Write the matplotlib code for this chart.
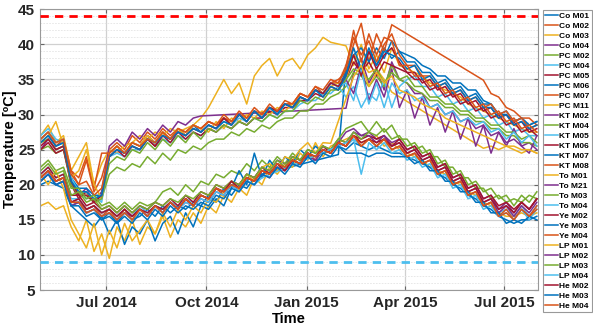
import numpy as np
import pandas as pd
import matplotlib
matplotlib.use("Agg")
import matplotlib.pyplot as plt
import matplotlib.dates as mdates
from matplotlib.ticker import MultipleLocator

plt.rcParams['font.family'] = ['Liberation Sans', 'DejaVu Sans']

nan = float('nan')

# weekly readings, 2 May 2014 .. 31 Jul 2015 (11 values per row)
dates = pd.date_range("2014-05-02", periods=66, freq="7D")

co_m01 = [20.5, 21.5, 20, 20.5, 17, 17.5, 16, 16.5, 15, 16, 14.5,
          16, 15, 15.5, 16.5, 15.5, 17, 16, 17, 16.5, 17.5, 17,
          18.5, 17.5, 19.5, 18.5, 20, 19.5, 21, 21.5, nan, nan, nan,
          nan, nan, nan, nan, nan, nan, 24.3, 37, 38.5, 36, 39,
          37, 39.5, 38, 39, 37.5, 37.5, 36, 36, 34.5, 35, 33.5,
          34, 32.5, 33, 31.5, 31.5, 30, 30.5, 29, 29.5, 28.5, 29]
co_m02 = [26.5, 27.5, 26, 26.5, 22, 20, 23.5, 19, 21, 25, 26,
          25, 27, 26, 27.5, 26.5, 28, 27, 28, 27.5, 28.5, 28,
          29, 28.5, 29.5, 29, 30, 29.5, 30.5, 30, 31, 30.5, 31.5,
          31.5, 33, 32.5, 34, 33, 34.5, 35, 36, 40, 43, 37.5,
          41.5, 39, 42.8, nan, nan, nan, nan, nan, nan, nan, nan,
          nan, nan, nan, 34.9, 33, 32.5, 31, 30.5, 29.5, 29.5, 28.5]
co_m03 = [27, 28.5, 26, 27, 22, 24, 26, 20, 23, 25, 24.5,
          25.5, 26, 27, 26.5, 27.5, 27, 28, 27.5, 28, 28.5, 29.5,
          31, 33, 35, 33, 34.5, 31.5, 35.5, 37, 38, 35.5, 37.5,
          38, 36.5, 38.5, 39.5, 41, 40.3, nan, 39.8, 37, 40, 36.5,
          38.5, 36, 39.5, 37, 36.5, 36, 35.5, 34.5, 34, 33.5, 33,
          32.5, 31.5, 31, 30.5, 30, 29.5, 29, 28.5, 28, 27.5, 27.5]
co_m04 = [25, 26.5, 25, 25.5, 20, 18.5, 19.5, 17.5, 19, 25.5, 26.5,
          25.5, 27.5, 26.5, 28, 27, 28.5, 27.5, 29, 28.5, 29.5, 29.8,
          nan, nan, nan, nan, nan, nan, nan, nan, nan, nan, nan,
          nan, nan, nan, nan, nan, nan, nan, 30.9, 36, 38, 34.5,
          36.5, 33.5, 37.5, 35, 34.5, 33, 33, 31, 31.5, 30, 30.5,
          29, 29.5, 28, 28.5, 27, 27.5, 26, 26.5, 25.5, 26, 25]
pc_m02 = [25, 25.5, 24.5, 25, 20.5, 18.5, 19, 17.5, 18, 21.5, 22.5,
          22, 23, 22.5, 24, 23, 24.5, 23.5, 25, 24.5, 25.5, 25,
          26, 26.5, 26.5, 27.5, 27, 28, 27.5, 28.5, 28, 29, 29.5,
          29.5, 30.5, 30.5, 31.5, 31.5, 32.5, 33, 34, 36, 35.5, 34,
          35.5, 34, 37, 35, 34.5, 33.5, 33, 32, 32, 31, 31,
          30, 30, 29, 29, 28, 28, 27, 27, 26, 26, 25.5]
pc_m04 = [27, 28, 26.5, 26, 21, 19, 18, 18.5, 17.5, 24, 24.5,
          24, 25, 25, 26.5, 25.5, 26.5, 26, 27, 26.5, 27.5, 27,
          28, 27.5, 28.5, 28, 29, 28.5, 29.5, 29, 30, 29.5, 30.5,
          30.5, 31.5, 32, 32, 33, 33, 34, 32.5, 34, 31, 33,
          32, 35, 31, 34, 35, 35.5, 34, 34, 32.5, 33, 31.5,
          32, 30.5, 31, 29.5, 30, 28.5, 29, 27.5, 28, 27, 27]
pc_m05 = [25, 26, 24.5, 25, 20, 18, 19, 17.5, 18.5, 24, 25,
          24, 25.5, 25, 26.5, 25.5, 27, 26, 27.5, 26.5, 27.5, 27,
          28, 27.5, 28.5, 28, 29, 28.5, 29.5, 29.5, 30.5, 30, 31,
          31, 32, 32, 33, 32.5, 34, 33.5, 35, 37.5, 36, 37.5,
          35.5, 37.5, 37, 36.5, 36, 35, 35, 33.5, 34, 32.5, 33,
          31.5, 32, 30.5, 31, 29.5, 30, 28.5, 29, 27.5, 28, 27]
pc_m06 = [26, 27, 25.5, 26, 21, 19.5, 19.5, 18.5, 18.5, 24.5, 25.5,
          24.5, 26, 25.5, 27, 26, 27.5, 26.5, 28, 27, 28.5, 27.5,
          28.5, 28, 29.5, 28.5, 30, 29, 30.5, 29.5, 31, 30, 31.5,
          31, 32.5, 32, 33.5, 33, 34.5, 34, 36, 38.5, 39.5, 37.5,
          39.5, 38, 40.5, 39, 38.5, 38, 37, 36.5, 35.5, 35.5, 34.5,
          34.5, 33.5, 33.5, 32, 31.5, 30, 30, 29, 29.5, 28.5, 29]
pc_m07 = [26.5, 27.5, 25.5, 26.5, 22, 21, 24, 19.5, 24.5, 24.5, 25.5,
          24.5, 26, 25.5, 27, 26, 27.5, 26.5, 28, 27, 28.5, 28,
          29, 28.5, 29.5, 29, 30, 29.5, 30.5, 30, 31, 30.5, 31.5,
          31.5, 33, 32.5, 33.5, 33, 34.5, 34.5, 37, 41, 38.5, 40.5,
          37.5, 40, 41.5, 38.5, 37, 37, 35.5, 35.5, 34, 34.5, 33,
          33.5, 32, 32.5, 31, 31.5, 30, 30.5, 29, 29.5, 28, 28.5]
pc_m11 = [26, 27, 29, 25.5, 21, 22, 25, 20, 18, 24.5, 25.5,
          24.5, 26, 25.5, 27, 26, 27.5, 26.5, 28, 27, 28.5, 28,
          27.5, 29, 28, 29.5, 29, 30, 29.5, 30.5, 30, 31, 30.5,
          31.5, 32.5, 32, 33.5, 33, 34, 34.5, 35, 38.5, 37.5, 36,
          36.5, 35, 33.2, nan, nan, nan, nan, nan, nan, nan, nan,
          nan, nan, nan, 25.2, 25.5, 25, 25.5, 25, 24.5, 25, 24.5]
kt_m02 = [nan, nan, nan, nan, nan, nan, nan, nan, nan, nan, nan,
          nan, nan, nan, nan, nan, nan, nan, nan, nan, nan, nan,
          nan, nan, nan, nan, nan, nan, nan, nan, nan, nan, nan,
          nan, nan, nan, nan, nan, nan, nan, 35, 33, 37, 32,
          35, 32.5, 36.5, 31, 33.5, 29.5, 32.5, 28.5, 31, 27.5, 30.5,
          26.5, 29.5, 25.5, 28.5, 24.5, 27.5, 25.5, 28, 25.5, 24.5, 27]
kt_m04 = [26, 26.5, 25, 25.5, 20, 18.5, 18.5, 17.5, 18, 23, 24,
          23.5, 25, 24.5, 26, 25, 26.5, 25.5, 27, 26, 27.5, 26.5,
          28, 27.5, 28.5, 28, 29, 28.5, 29.5, 29, 30, 29.5, 30.5,
          30.5, 32, 31.5, 32.5, 32, 33.5, 33.5, 35, 36.5, 36, 35,
          36.5, 34.5, 36, 35, 35.5, 34, 34, 32.5, 32.5, 31.5, 31.5,
          30.5, 30.5, 29.5, 29.5, 28.5, 28.5, 27.5, 27.5, 26.5, 27, 26]
kt_m05 = [26.5, 27.5, 26, 26.5, 21, 19, 19, 18, 18.5, 24, 25,
          24.5, 25.5, 25, 26.5, 26, 27, 26.5, 27.5, 27, 28, 27.5,
          28.5, 28, 29, 28.5, 29.5, 29, 30.5, 29.5, 31, 30, 31.5,
          31, 32.5, 32, 33.5, 33, 34.5, 34, 34.5, 32, 36.5, 31.5,
          34.5, 31, 34.5, 33, 33.5, 32, 32.5, 31, 31.5, 30, 30.5,
          29, 29.5, 28.5, 29, 27.5, 28, 26.5, 27.5, 26, 27, 25.5]
kt_m06 = [25.5, 26.5, 25, 25.5, 20.5, 18.5, 18.5, 17.5, 18.5, 24, 25,
          24.5, 25.5, 25, 26.5, 25.5, 27, 26.5, 27.5, 27, 28, 27.5,
          28.5, 28, 29.5, 28.5, 30, 29, 30.5, 29.5, 31, 30.5, 31.5,
          31, 32.5, 32, 33.5, 33, 34.5, 34, 35.5, 38.5, 35.5, 39,
          36.5, 38.5, 39.5, 37.5, 36, 36, 34.5, 35, 33.5, 34, 32.5,
          33, 31.5, 32, 30.5, 31, 29.5, 30, 28.5, 29, 27.5, 28]
kt_m07 = [26, 27, 25.5, 26, 20.5, 19, 19, 18, 18.5, 24, 25,
          24.5, 25.5, 25, 26.5, 26, 27, 26.5, 27.5, 27, 28, 27.5,
          28.5, 28, 29, 28.5, 30, 29, 30.5, 29.5, 31, 30, 31.5,
          31, 32.5, 32, 33.5, 32.5, 34, 33.5, 35.5, 39.5, 36.5, 39.5,
          37, 39, 38.5, 38, 36.5, 37, 35, 35.5, 34, 34.5, 33,
          33.5, 32, 32.5, 31, 31, 29.5, 30, 28.5, 29, 28, 28.5]
kt_m08 = [26.5, 27.5, 26, 26.5, 21.5, 20, 20.5, 18.5, 19.5, 24.5, 25.5,
          24.5, 26, 25.5, 26.5, 26, 27.5, 26.5, 28, 27.5, 28.5, 28,
          29, 28.5, 30, 29, 30.5, 29.5, 31, 30, 31.5, 30.5, 32,
          31.5, 33, 32.5, 34, 33.5, 35, 34.5, 36.5, 42, 37.5, 41.5,
          38.5, 41, 40.5, 37, 37, 35.5, 35.5, 34, 34.5, 33, 33.5,
          32, 32.5, 31, 31.5, 30, 30.5, 29, 29.5, 28, 28.5, 27.5]
to_m01 = [17, 17.5, 16.5, 17, 14, 12, 15, 10.5, 13, 9.5, 14,
          12, 15, 11.5, 14, 13, 15.5, 12.5, 15, 14, 16, 14.5,
          17, 16, 18.5, 17.5, 19.5, 18.5, 21, 20, 22.5, 21.5, 23,
          22.5, 24.5, 23.5, 26, 24, 25.5, 26, 26.5, 27, 26, 26.5,
          27, 25.5, 26, 25, 24.5, 24, 23.5, 22.5, 22, 21.5, 20.5,
          20, 19, 18.5, 17.5, 17, 16, 15.5, 15.5, 16, 15.5, 16]
to_m21 = [21, 22, 20.5, 21, 17.5, 18, 16.5, 17, 16, 16.5, 15.5,
          16.5, 15.5, 16.5, 15.5, 17, 16.5, 17.5, 16.5, 18, 17, 18.5,
          18, 19.5, 19, 20.5, 20, 21.5, 21, 22.5, 22, 23.5, 23,
          24, 23.5, 25, 24.5, 25.5, 25, 26.5, 26, 27.5, 27, 27.5,
          26.5, 27, 26, 26.5, 25, 25.5, 24, 24.5, 22.5, 23, 21,
          21.5, 19.5, 20, 18, 18.5, 16.5, 17.5, 16, 17.5, 16.5, 18]
to_m03 = [22.5, 23.5, 22, 22.5, 19.5, 19.5, 18, 18.5, 17, 17.5, 16.5,
          17.5, 16.5, 17.5, 17, 17.5, 19, 19.5, 18.5, 20, 19, 20.5,
          20, 21.5, 21, 22, 21.5, 23, 22, 23.5, 22.5, 24, 23,
          24.5, 23.5, 25, 24.5, 25.5, 25, 26.5, 28, 28.5, 29, 27.5,
          29, 27.5, 28.5, 26.5, 26.5, 25, 25.5, 24, 24, 22.5, 22.5,
          21, 21, 19.5, 19.5, 18, 18.5, 17.5, 18, 17.5, 18.5, 18]
to_m04 = [21.5, 22.5, 21, 21.5, 18, 18, 16.5, 17, 16, 16.5, 15.5,
          16.5, 15.5, 17, 16, 17, 16.5, 17.5, 17, 18, 17.5, 18.5,
          18, 19.5, 19, 20, 19.5, 21, 20.5, 22, 21.5, 23, 22,
          23.5, 23, 24.5, 23.5, 25, 24.5, 26, 25.5, 26.5, 25.5, 26.5,
          25.5, 26.5, 25, 25.5, 24, 24.5, 23, 23.5, 21.5, 22, 20,
          20.5, 18.5, 19, 17, 17.5, 16, 16.5, 15.5, 17, 15.5, 17]
ye_m02 = [21.5, 22.5, 21, 21.5, 18.5, 18.5, 17, 17.5, 16.5, 17, 16,
          17, 16, 17, 16.5, 17.5, 17, 18, 17, 18.5, 17.5, 19,
          18.5, 20, 19.5, 20.5, 20, 21.5, 21, 22.5, 21.5, 23, 22.5,
          24, 23.5, 24.5, 24, 25.5, 24.5, 26, 25.5, 27, 26.5, 27,
          26.5, 27, 25.5, 26.5, 25, 25.5, 24, 24.5, 22.5, 23, 21,
          21.5, 19.5, 20, 18, 18.5, 17, 17.5, 16.5, 17.5, 16.5, 18]
ye_m03 = [20, 20.5, 20, 19.5, 17, 16, 15, 14, 15.5, 13, 15,
          11.5, 14, 13, 15, 12, 14.5, 15.5, 13, 16, 14, 17,
          16.5, 18, 17, 19.5, 22, 20, 24.5, 21, 23.5, 22, 24,
          23, 25, 24, 25.5, 24.5, 25, 25.5, 25, 26, 25.5, 25,
          25.5, 25, 24.5, 24.5, 24, 23.5, 23, 22.5, 21.5, 21, 20,
          19.5, 18.5, 18, 17, 16.5, 15.5, 15, 14.5, 15, 15, 15.5]
ye_m04 = [21, 22, 20.5, 21, 17.5, 17.5, 16.5, 17, 15.5, 16.5, 15,
          16.5, 15, 16.5, 15.5, 17, 16, 17.5, 16.5, 18, 17, 18.5,
          18, 19.5, 18.5, 20, 19.5, 21, 20.5, 22, 21.5, 22.5, 22,
          23.5, 23, 24.5, 23.5, 25, 24.5, 26, 25.5, 27, 25.5, 26.5,
          25.5, 26.5, 25, 25.5, 24, 24.5, 23, 23.5, 21.5, 22, 20,
          20.5, 18.5, 19, 17, 17.5, 15.5, 16.5, 15, 16.5, 15.5, 17]
lp_m01 = [21.5, 20, 22, 19.5, 15, 13, 11, 14.5, 10, 13.5, 11,
          14.5, 12, 13.5, 15, 13, 16, 14, 16.5, 15, 17, 16,
          18, 17.5, 19, 20.5, 19.5, 21.5, 20.5, 22.5, 23, 22, 24,
          23.5, 25, 26, 24.5, 26, 25.9, nan, nan, 35.4, 37, 34,
          36, 34.5, 35.5, 33.5, 33, 32.5, 31.5, 31, 30.5, 29.5, 29,
          28.5, 28, 27.5, 27, 26.5, 26, 25.5, 25.5, 25, 25, 24.5]
lp_m02 = [20.5, 21.5, 20, 20.5, 17, 17.5, 16, 16.5, 15.5, 16, 15,
          16, 15.5, 16.5, 15.5, 17, 16, 17.5, 16.5, 17.5, 17, 18,
          17.5, 19, 18.5, 20, 19, 20.5, 20, 21.5, 21, 22.5, 22,
          23.5, 23, 24, 23.5, 25, 24.5, 26, 27.5, 28, 27, 27,
          26, 27, 25.5, 26, 24.5, 25, 23.5, 24, 22, 22.5, 20.5,
          21, 19, 19.5, 17.5, 18, 16, 17, 15.5, 17, 16, 17.5]
lp_m03 = [22, 23, 21.5, 22, 18.5, 19, 17.5, 18, 16.5, 17, 16,
          17, 16, 17, 16.5, 17.5, 17, 18, 17.5, 18.5, 18, 19,
          18.5, 20, 19.5, 20.5, 20, 21.5, 21, 22.5, 22, 23.5, 22.5,
          24, 23.5, 25, 24.5, 25.5, 25, 26.5, 26, 27.5, 26.5, 27.5,
          27, 28, 26.5, 27, 25.5, 26, 24.5, 25, 23, 23.5, 21.5,
          22, 20, 20.5, 19, 19.5, 18, 18.5, 17, 18.5, 17.5, 19]
lp_m04 = [21, 22, 20.5, 21, 17.5, 17.5, 16, 16.5, 15.5, 16, 15,
          16, 15, 16.5, 15.5, 17, 16, 17.5, 16.5, 17.5, 17, 18,
          17.5, 19, 18.5, 20, 19, 20.5, 20, 21, nan, nan, nan,
          nan, nan, nan, nan, nan, nan, 25.5, 26, 26.5, 21.5, 26,
          25, 26, 24.5, 25, 23.5, 24, 22.5, 23, 21, 21.5, 19.5,
          20, 18, 18.5, 16.5, 17, 15.5, 16, 15, 16.5, 15, 16.5]
he_m02 = [21, 22, 20.5, 21, 17.5, 18, 16.5, 17, 16, 16.5, 15.5,
          16.5, 15.5, 16.5, 16, 17, 16.5, 17.5, 16.5, 18, 17, 18.5,
          18, 19.5, 19, 20.5, 19.5, 21, 20.5, 22, 21.5, 23, 22,
          23.5, 23, 24.5, 24, 25, 24.5, 26, 25.5, 27, 26, 26.5,
          26, 26.5, 25.5, 26, 24.5, 25, 23.5, 24, 22, 22.5, 20.5,
          21, 19, 19.5, 17.5, 18, 16.5, 17, 16, 17.5, 16.5, 18]
he_m03 = [20.5, 21.5, 20, 20.5, 17, 17, 15.5, 16, 15, 15.5, 14.5,
          15.5, 14.5, 16, 15, 16.5, 15.5, 17, 16, 17, 16.5, 17.5,
          17, 18.5, 18, 19.5, 19, 20.5, 20, 21.5, 21, 22.5, 21.5,
          23, 22.5, 24, 23, 24.5, 24, 25.5, 24.5, 24.5, 24.5, 24,
          24.5, 24.5, 24, 24, 24, 23, 23.5, 22, 22, 20.5, 20.5,
          19, 19, 17.5, 17.5, 16, 16, 14.5, 15, 14.5, 15.5, 15]
he_m04 = [21, 22, 20.5, 21, 17.5, 17.5, 16, 16.5, 15.5, 16, 15,
          16, 15, 16.5, 15.5, 17, 16, 17.5, 16.5, 18, 17, 18.5,
          18, 19.5, 19, 20, 19.5, 21, 20.5, 22, 21.5, 23, 22.5,
          23.5, 23, 24.5, 24, 25, 24.5, 26, 25.5, 27, 25.5, 26.5,
          25.5, 26.5, 25, 25.5, 24, 24.5, 23, 23.5, 21.5, 22, 20,
          20.5, 18.5, 19, 17, 17.5, 15.5, 16, 15, 16.5, 15.5, 16.5]

labels = ["Co M01", "Co M02", "Co M03", "Co M04",
          "PC M02", "PC M04", "PC M05", "PC M06", "PC M07", "PC M11",
          "KT M02", "KT M04", "KT M05", "KT M06", "KT M07", "KT M08",
          "To M01", "To M21", "To M03", "To M04",
          "Ye M02", "Ye M03", "Ye M04",
          "LP M01", "LP M02", "LP M03", "LP M04",
          "He M02", "He M03", "He M04"]
series = [co_m01, co_m02, co_m03, co_m04,
          pc_m02, pc_m04, pc_m05, pc_m06, pc_m07, pc_m11,
          kt_m02, kt_m04, kt_m05, kt_m06, kt_m07, kt_m08,
          to_m01, to_m21, to_m03, to_m04,
          ye_m02, ye_m03, ye_m04,
          lp_m01, lp_m02, lp_m03, lp_m04,
          he_m02, he_m03, he_m04]

upper_limit = 44
lower_limit = 9

# MATLAB default colour order
colors = ['#0072BD', '#D95319', '#EDB120', '#7E2F8E',
          '#77AC30', '#4DBEEE', '#A2142F']

fig = plt.figure(figsize=(5.93, 3.32), dpi=100)
ax = fig.add_axes([0.0675, 0.1265, 0.84, 0.8455])

for i, (lab, vals) in enumerate(zip(labels, series)):
    y = np.array(vals, dtype=float)
    ok = ~np.isnan(y)
    # missing weeks are bridged by a straight line, as in the logger export
    ax.plot(dates[ok], y[ok], color=colors[i % 7], lw=1.1, label=lab)

ax.axhline(upper_limit, color='#FF0000', lw=2, dashes=(3, 2.2), zorder=5)
ax.axhline(lower_limit, color='#4DBEEE', lw=2, dashes=(3, 2.2), zorder=5)

ax.set_xlim(pd.Timestamp("2014-05-01 12:00"), pd.Timestamp("2015-08-01 05:00"))
ax.set_ylim(5, 45)
ax.yaxis.set_major_locator(MultipleLocator(5))
ax.yaxis.set_minor_locator(MultipleLocator(1))
ax.set_xticks(pd.to_datetime(["2014-07-01", "2014-10-01", "2015-01-01",
                              "2015-04-01", "2015-07-01"]))
ax.xaxis.set_major_formatter(mdates.DateFormatter("%b %Y"))

ax.grid(True, which='major', color='#d0d0d0', lw=0.9)
ax.grid(True, which='minor', axis='y', color='#e4e4e4', lw=0.6, ls=(0, (2, 1.5)))
ax.set_axisbelow(True)
ax.tick_params(which='both', direction='in', top=True, right=True,
               color='#666666', labelsize=11)
ax.tick_params(axis='x', pad=4.5)
ax.tick_params(axis='y', pad=3.5)
ax.tick_params(which='minor', length=0)
ax.tick_params(which='major', length=3)
for t in ax.get_xticklabels() + ax.get_yticklabels():
    t.set_fontweight('bold')
    t.set_color('#262626')
for s in ax.spines.values():
    s.set_color('#999999')
    s.set_linewidth(0.8)

ax.set_ylabel("Temperature [ºC]", fontsize=10.5, fontweight='bold', labelpad=1)
ax.set_xlabel("Time", fontsize=10.5, fontweight='bold', labelpad=1)

leg = ax.legend(loc='upper left', bbox_to_anchor=(543 / 593, 1 - 10 / 332),
                bbox_transform=fig.transFigure,
                prop={'weight': 'bold', 'size': 6},
                labelspacing=0.26, handlelength=1.5, handletextpad=0.2,
                borderpad=0.25, borderaxespad=0, fancybox=False,
                edgecolor='#999999', framealpha=1)
leg.get_frame().set_linewidth(0.8)

fig.savefig("out.png", dpi=100)
